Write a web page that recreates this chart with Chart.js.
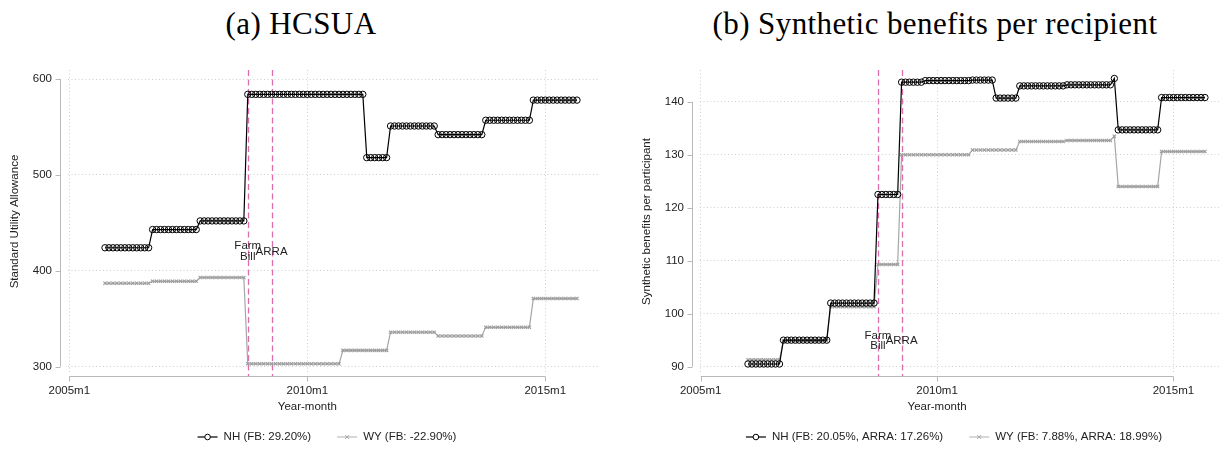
<!DOCTYPE html>
<html><head><meta charset="utf-8">
<script src="https://cdn.jsdelivr.net/npm/chart.js@4.4.1/dist/chart.umd.min.js"></script>
<style>
html,body{margin:0;padding:0;background:#fff;}
body{width:1225px;height:453px;position:relative;overflow:hidden;}
.panel{position:absolute;top:0;height:453px;}
.title{position:absolute;top:7px;font-family:"Liberation Serif","Times New Roman",serif;font-size:31px;letter-spacing:0.4px;line-height:34px;color:#000;white-space:nowrap;transform:translateX(-50%);}
</style></head><body>
<div class="title" style="left:301px">(a) HCSUA</div>
<div class="title" style="left:935px">(b) Synthetic benefits per recipient</div>
<div class="panel" style="left:0;width:612px"><canvas id="ca" width="612" height="453"></canvas></div>
<div class="panel" style="left:612px;width:613px"><canvas id="cb" width="613" height="453"></canvas></div>
<script>
// ---------------- DATA ----------------
// Panel (a): HCSUA, monthly from 2005m10
const startA = '2005m10';
const nhA = [
  424,424,424,424,424,424,424,424,424,424,424,424,
  443,443,443,443,443,443,443,443,443,443,443,443,
  452,452,452,452,452,452,452,452,452,452,452,452,
  584,584,584,584,584,584,584,584,584,584,
  584,584,584,584,584,584,584,584,584,584,
  584,584,584,584,584,584,584,584,584,584,
  518,518,518,518,518,518,
  551,551,551,551,551,551,551,551,551,551,551,551,
  542,542,542,542,542,542,542,542,542,542,542,542,
  557,557,557,557,557,557,557,557,557,557,557,557,
  578,578,578,578,578,578,578,578,578,578,578,578
];
const wyA = [
  387,387,387,387,387,387,387,387,387,387,387,387,
  389,389,389,389,389,389,389,389,389,389,389,389,
  393,393,393,393,393,393,393,393,393,393,393,393,
  303,303,303,303,303,303,303,303,303,303,303,303,
  303,303,303,303,303,303,303,303,303,303,303,303,
  317,317,317,317,317,317,317,317,317,317,317,317,
  336,336,336,336,336,336,336,336,336,336,336,336,
  332,332,332,332,332,332,332,332,332,332,332,332,
  341,341,341,341,341,341,341,341,341,341,341,341,
  371,371,371,371,371,371,371,371,371,371,371,371
];
const legendA = ['NH (FB: 29.20%)', 'WY (FB: -22.90%)'];
const yTitleA = 'Standard Utility Allowance';
const yTicksA = [300, 400, 500, 600];

// Panel (b): synthetic benefits per recipient, monthly from 2006m1
const startB = '2006m1';
const nhB = [
  90.5,90.5,90.5,90.5,90.5,90.5,90.5,90.5,90.5,
  95.0,95.0,95.0,95.0,95.0,95.0,95.0,95.0,95.0,95.0,95.0,95.0,
  102.0,102.0,102.0,102.0,102.0,102.0,102.0,102.0,102.0,102.0,102.0,102.0,
  122.5,122.5,122.5,122.5,122.5,122.5,
  143.7,143.7,143.7,143.7,143.7,143.7,
  144.0,144.0,144.0,144.0,144.0,144.0,144.0,144.0,144.0,144.0,144.0,144.0,
  144.1,144.1,144.1,144.1,144.1,144.1,
  140.7,140.7,140.7,140.7,140.7,140.7,
  143.0,143.0,143.0,143.0,143.0,143.0,143.0,143.0,143.0,143.0,143.0,143.0,
  143.2,143.2,143.2,143.2,143.2,143.2,143.2,143.2,143.2,143.2,143.2,143.2,
  144.4,
  134.7,134.7,134.7,134.7,134.7,134.7,134.7,134.7,134.7,134.7,134.7,
  140.8,140.8,140.8,140.8,140.8,140.8,140.8,140.8,140.8,140.8,140.8,140.8
];
const wyB = [
  91.3,91.3,91.3,91.3,91.3,91.3,91.3,91.3,91.3,
  94.9,94.9,94.9,94.9,94.9,94.9,94.9,94.9,94.9,94.9,94.9,94.9,
  101.3,101.3,101.3,101.3,101.3,101.3,101.3,101.3,101.3,101.3,101.3,101.3,
  109.3,109.3,109.3,109.3,109.3,109.3,
  130.0,130.0,130.0,130.0,130.0,130.0,130.0,130.0,130.0,
  130.0,130.0,130.0,130.0,130.0,130.0,130.0,130.0,130.0,
  130.9,130.9,130.9,130.9,130.9,130.9,130.9,130.9,130.9,130.9,130.9,130.9,
  132.5,132.5,132.5,132.5,132.5,132.5,132.5,132.5,132.5,132.5,132.5,132.5,
  132.7,132.7,132.7,132.7,132.7,132.7,132.7,132.7,132.7,132.7,132.7,132.7,
  133.5,
  124.0,124.0,124.0,124.0,124.0,124.0,124.0,124.0,124.0,124.0,124.0,
  130.6,130.6,130.6,130.6,130.6,130.6,130.6,130.6,130.6,130.6,130.6,130.6
];
const legendB = ['NH (FB: 20.05%, ARRA: 17.26%)', 'WY (FB: 7.88%, ARRA: 18.99%)'];
const yTitleB = 'Synthetic benefits per participant';
const yTicksB = [90, 100, 110, 120, 130, 140];

// Shared
const xTickLabels = ['2005m1', '2010m1', '2015m1'];
const xTitle = 'Year-month';
const eventMonths = ['2008m10', '2009m4'];
const eventLabels = [['Farm', 'Bill'], ['ARRA']];

// ---------------- HELPERS ----------------
function monthIndex(s) { const p = s.split('m').map(Number); return (p[0] - 2005) * 12 + (p[1] - 1); }
function toPts(start, vals) { const s0 = monthIndex(start); return vals.map((v, i) => ({ x: s0 + i, y: v })); }
const xTickVals = xTickLabels.map(monthIndex);
const FONT = '"Liberation Sans", Arial, Helvetica, sans-serif';
const TXT = '#222';
const GRID = '#cfcfcf';
const AXIS = '#b8b8b8';
const PINK = '#dc6fab';
const NHC = '#000000';
const WYC = '#a6a6a6';

function drawSymbol(ctx, kind, x, y) {
  ctx.save();
  if (kind === 0) {
    ctx.strokeStyle = NHC; ctx.lineWidth = 1.2;
    ctx.beginPath(); ctx.moveTo(x - 10, y); ctx.lineTo(x + 10, y); ctx.stroke();
    ctx.lineWidth = 1; ctx.fillStyle = '#fff';
    ctx.beginPath(); ctx.arc(x, y, 2.8, 0, Math.PI * 2); ctx.fill(); ctx.stroke();
  } else {
    ctx.strokeStyle = '#bdbdbd'; ctx.lineWidth = 1.2;
    ctx.beginPath(); ctx.moveTo(x - 10, y); ctx.lineTo(x + 10, y); ctx.stroke();
    ctx.strokeStyle = WYC; ctx.lineWidth = 1;
    ctx.beginPath(); ctx.moveTo(x - 2, y - 2); ctx.lineTo(x + 2, y + 2); ctx.moveTo(x + 2, y - 2); ctx.lineTo(x - 2, y + 2); ctx.stroke();
  }
  ctx.restore();
}

const decor = {
  id: 'decor',
  beforeDatasetsDraw(chart) {
    const o = chart.options.plugins.decor;
    const ctx = chart.ctx, ca = chart.chartArea, sx = chart.scales.x, sy = chart.scales.y;
    ctx.save();
    // axis lines (offset from plot region)
    ctx.strokeStyle = AXIS; ctx.lineWidth = 1;
    const ax = Math.round(ca.left - 8) + 0.5;
    const y0 = sy.getPixelForValue(o.yTicks[0]), y1 = sy.getPixelForValue(o.yTicks[o.yTicks.length - 1]);
    ctx.beginPath(); ctx.moveTo(ax, y0); ctx.lineTo(ax, y1);
    o.yTicks.forEach(v => { const p = Math.round(sy.getPixelForValue(v)) + 0.5; ctx.moveTo(ax - 5, p); ctx.lineTo(ax, p); });
    const ay = Math.round(ca.bottom + 3) + 0.5;
    const x0 = sx.getPixelForValue(xTickVals[0]), x1 = sx.getPixelForValue(xTickVals[xTickVals.length - 1]);
    ctx.moveTo(x0, ay); ctx.lineTo(x1, ay);
    xTickVals.forEach(v => { const p = Math.round(sx.getPixelForValue(v)) + 0.5; ctx.moveTo(p, ay); ctx.lineTo(p, ay + 5); });
    ctx.stroke();
    // event lines
    ctx.strokeStyle = PINK; ctx.lineWidth = 1.3; ctx.setLineDash([6, 3.5]);
    eventMonths.forEach(m => {
      const p = Math.round(sx.getPixelForValue(monthIndex(m))) + 0.5;
      ctx.beginPath(); ctx.moveTo(p, ca.top); ctx.lineTo(p, ca.bottom + 3); ctx.stroke();
    });
    ctx.restore();
  },
  afterDraw(chart) {
    const o = chart.options.plugins.decor;
    const ctx = chart.ctx, ca = chart.chartArea, sx = chart.scales.x, sy = chart.scales.y;
    ctx.save();
    ctx.fillStyle = TXT;
    ctx.font = '11.5px ' + FONT;
    ctx.textAlign = 'center'; ctx.textBaseline = 'middle';
    // event labels
    const yc = sy.getPixelForValue(o.eventY);
    eventMonths.forEach((m, i) => {
      const p = sx.getPixelForValue(monthIndex(m));
      const lines = eventLabels[i];
      const lh = 10.7;
      lines.forEach((t, j) => ctx.fillText(t, p, yc + (j - (lines.length - 1) / 2) * lh));
    });
    // x title
    const x0 = sx.getPixelForValue(xTickVals[0]), x1 = sx.getPixelForValue(xTickVals[xTickVals.length - 1]);
    ctx.fillText(xTitle, (x0 + x1) / 2, 407);
    // y title
    ctx.save();
    ctx.translate(ca.left - o.yTitleOff, (ca.top + ca.bottom) / 2);
    ctx.rotate(-Math.PI / 2);
    ctx.fillText(o.yTitle, 0, 0);
    ctx.restore();
    // legend
    ctx.textAlign = 'left';
    const symW = 20, gapT = 6, gapI = 26;
    const widths = o.legend.map(t => ctx.measureText(t).width);
    const total = widths.reduce((a, w) => a + symW + gapT + w, 0) + gapI * (o.legend.length - 1);
    let cx = (ca.left + ca.right) / 2 - 6 - total / 2;
    const ly = 437;
    o.legend.forEach((t, i) => {
      drawSymbol(ctx, i, cx + symW / 2, ly);
      ctx.fillStyle = TXT;
      ctx.fillText(t, cx + symW + gapT, ly);
      cx += symW + gapT + widths[i] + gapI;
    });
    ctx.restore();
  }
};

function makeChart(id, p) {
  const W = p.W, H = 453;
  const yW = 40, xH = 30;
  return new Chart(document.getElementById(id), {
    type: 'line',
    data: {
      datasets: [
        { label: p.legend[0], data: toPts(p.start, p.nh), borderColor: NHC, borderWidth: 1.2,
          pointStyle: 'circle', pointRadius: 3.2, pointBorderWidth: 1, pointBorderColor: NHC,
          pointBackgroundColor: 'rgba(255,255,255,0)', tension: 0 },
        { label: p.legend[1], data: toPts(p.start, p.wy), borderColor: WYC, borderWidth: 1.2,
          pointStyle: 'crossRot', pointRadius: 2.3, pointBorderWidth: 1.1, pointBorderColor: '#9c9c9c',
          pointBackgroundColor: '#9c9c9c', tension: 0 }
      ]
    },
    options: {
      responsive: false, animation: false, devicePixelRatio: 1,
      layout: { padding: { left: p.L - yW, right: W - p.R, top: p.T, bottom: H - p.B - xH } },
      plugins: {
        legend: { display: false }, tooltip: { enabled: false }, title: { display: false },
        decor: { yTicks: p.yTicks, eventY: p.eventY, yTitle: p.yTitle, yTitleOff: p.yTitleOff, legend: p.legend }
      },
      scales: {
        x: {
          type: 'linear', min: p.xmin, max: p.xmax,
          afterBuildTicks: s => { s.ticks = xTickVals.map(v => ({ value: v })); },
          afterFit: s => { s.height = xH; },
          ticks: { autoSkip: false, maxRotation: 0, padding: 11, color: TXT, font: { family: FONT, size: 11.5 },
                   callback: v => { const k = xTickVals.indexOf(v); return k >= 0 ? xTickLabels[k] : ''; } },
          grid: { color: GRID, lineWidth: 1, drawTicks: false },
          border: { display: false, dash: [1, 2.5] }
        },
        y: {
          type: 'linear', min: p.ymin, max: p.ymax,
          afterBuildTicks: s => { s.ticks = p.yTicks.map(v => ({ value: v })); },
          afterFit: s => { s.width = yW; },
          ticks: { padding: 16, color: TXT, font: { family: FONT, size: 11.5 } },
          grid: { color: GRID, lineWidth: 1, drawTicks: false },
          border: { display: false, dash: [1, 2.5] }
        }
      }
    },
    plugins: [decor]
  });
}

makeChart('ca', { W: 612, L: 68, R: 598, T: 70, B: 373, xmin: -0.33, xmax: 133.3, ymin: 293.4, ymax: 609.4,
  start: startA, nh: nhA, wy: wyA, legend: legendA, yTicks: yTicksA, yTitle: yTitleA, yTitleOff: 53, eventY: 420 });
makeChart('cb', { W: 613, L: 88, R: 610, T: 70, B: 373, xmin: -0.18, xmax: 131.8, ymin: 88.8, ymax: 146.0,
  start: startB, nh: nhB, wy: wyB, legend: legendB, yTicks: yTicksB, yTitle: yTitleB, yTitleOff: 53.3, eventY: 94.9 });
</script>
</body></html>
